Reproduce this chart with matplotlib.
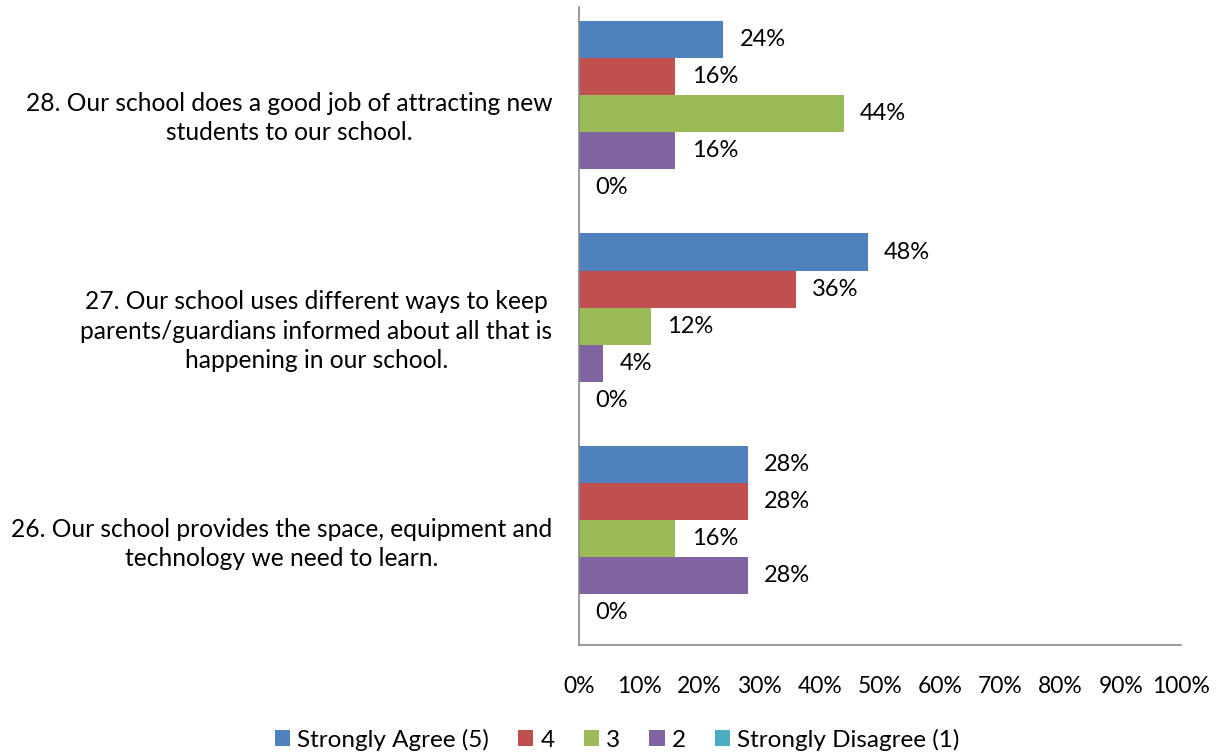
import numpy as np
import matplotlib
matplotlib.use("Agg")
import matplotlib.pyplot as plt

plt.rcParams['font.family'] = ['Lato', 'DejaVu Sans']

questions = [
    "26. Our school provides the space, equipment and\ntechnology we need to learn.",
    "27. Our school uses different ways to keep\nparents/guardians informed about all that is\nhappening in our school.",
    "28. Our school does a good job of attracting new\nstudents to our school.",
]
series = ["Strongly Agree (5)", "4", "3", "2", "Strongly Disagree (1)"]
# rows follow questions (26, 27, 28), columns follow series
values = np.array([
    [28, 28, 16, 28, 0],
    [48, 36, 12, 4, 0],
    [24, 16, 44, 16, 0],
])
colors = ["#4F81BD", "#C0504D", "#9BBB59", "#8064A2", "#4BACC6"]
ticks = np.arange(0, 101, 10)
FS = 16.5

fig = plt.figure(figsize=(12.2, 7.53), dpi=100)
ax = fig.add_axes([0.4746, 0.1434, 0.4934, 0.8473])

h = 0.174
y = np.arange(len(questions))
for j, (name, c) in enumerate(zip(series, colors)):
    yy = y + (2 - j) * h
    ax.barh(yy, values[:, j], height=h, color=c, label=name)
    for yi, v in zip(yy, values[:, j]):
        ax.text(v + 2.7, yi, f"{v}%", va="center", ha="left", fontsize=FS + 0.5)

ax.set_xlim(0, 100)
ax.set_ylim(-0.5, 2.5)
ax.set_xticks(ticks)
ax.set_xticklabels([f"{t}%" for t in ticks], fontsize=FS)
ax.set_yticks(y)
ax.set_yticklabels(questions, fontsize=17.7, multialignment="center", linespacing=1.32)
ax.tick_params(axis="both", length=0)
ax.tick_params(axis="x", pad=22)
ax.tick_params(axis="y", pad=19)
for s in ["top", "right"]:
    ax.spines[s].set_visible(False)
for s in ["left", "bottom"]:
    ax.spines[s].set_color("#898989")
    ax.spines[s].set_linewidth(1.2)

fig.legend(loc="lower center", bbox_to_anchor=(0.506, -0.026), ncol=5, frameon=False,
           fontsize=17.5, handlelength=0.62, handleheight=0.62, handletextpad=0.3,
           columnspacing=1.2)

fig.savefig("out.png", dpi=100)
